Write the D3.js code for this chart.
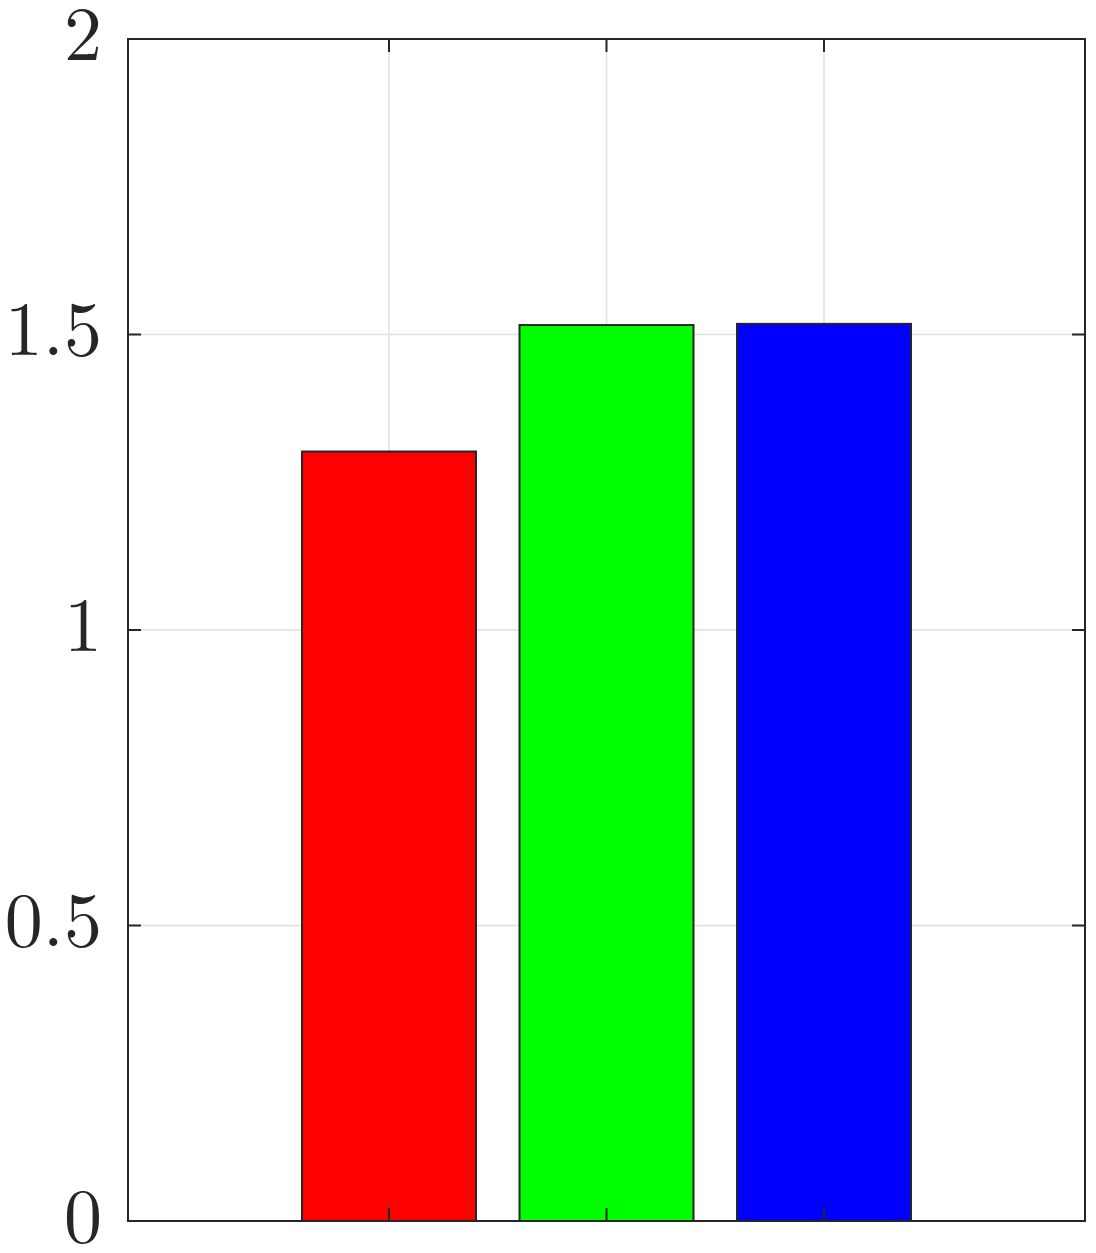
<!DOCTYPE html>
<html><head><meta charset="utf-8">
<script src="https://cdn.jsdelivr.net/npm/d3@7"></script>
<style>html,body{margin:0;padding:0;background:#fff;}</style>
</head><body>
<svg id="chart" width="1096" height="1253"></svg>
<script>
const categories = [1, 2, 3];
const values = [1.302, 1.516, 1.518];
const colors = ["#ff0000", "#00ff00", "#0000ff"];
const yTicks = [0, 0.5, 1, 1.5, 2];
const yTickLabels = ["0", "0.5", "1", "1.5", "2"];

const svg = d3.select("#chart");
const L = 128, R = 1085, T = 39, B = 1221;
const x = d3.scaleLinear().domain([-0.2, 4.2]).range([L, R]);
const y = d3.scaleLinear().domain([0, 2]).range([B, T]);
const barW = 0.8;
const axisColor = "#262626";

// grid
const g = svg.append("g");
g.selectAll(".vg").data(categories).join("line")
  .attr("x1", d => x(d)).attr("x2", d => x(d)).attr("y1", T).attr("y2", B)
  .attr("stroke", "#dfdfdf").attr("stroke-width", 1.5);
g.selectAll(".hg").data(yTicks).join("line")
  .attr("x1", L).attr("x2", R).attr("y1", d => y(d)).attr("y2", d => y(d))
  .attr("stroke", "#dfdfdf").attr("stroke-width", 1.5);

// bars
svg.append("g").selectAll("rect").data(values).join("rect")
  .attr("x", (d, i) => x(categories[i] - barW / 2))
  .attr("width", (d, i) => x(categories[i] + barW / 2) - x(categories[i] - barW / 2))
  .attr("y", d => y(d))
  .attr("height", d => y(0) - y(d))
  .attr("fill", (d, i) => colors[i])
  .attr("stroke", axisColor).attr("stroke-width", 2);

// axes with ticks (inside)
const tl = 13;
const ax = svg.append("g").attr("fill", "none").attr("stroke", axisColor).attr("stroke-width", 2);
ax.append("rect").attr("x", L).attr("y", T).attr("width", R - L).attr("height", B - T);
ax.selectAll(".xtb").data(categories).join("line")
  .attr("x1", d => x(d)).attr("x2", d => x(d)).attr("y1", B).attr("y2", B - tl);
ax.selectAll(".xtt").data(categories).join("line")
  .attr("x1", d => x(d)).attr("x2", d => x(d)).attr("y1", T).attr("y2", T + tl);
ax.selectAll(".ytl").data(yTicks).join("line")
  .attr("x1", L).attr("x2", L + tl).attr("y1", d => y(d)).attr("y2", d => y(d));
ax.selectAll(".ytr").data(yTicks).join("line")
  .attr("x1", R).attr("x2", R - tl).attr("y1", d => y(d)).attr("y2", d => y(d));

// y labels
svg.append("g").selectAll("text").data(yTicks).join("text")
  .attr("x", 102).attr("y", d => y(d) - 6)
  .attr("dy", "0.35em")
  .attr("text-anchor", "end")
  .attr("font-family", "'Latin Modern Roman','CMU Serif','DejaVu Serif','Liberation Serif',serif")
  .attr("font-size", 76)
  .attr("fill", axisColor)
  .text((d, i) => yTickLabels[i]);
</script>
</body></html>
